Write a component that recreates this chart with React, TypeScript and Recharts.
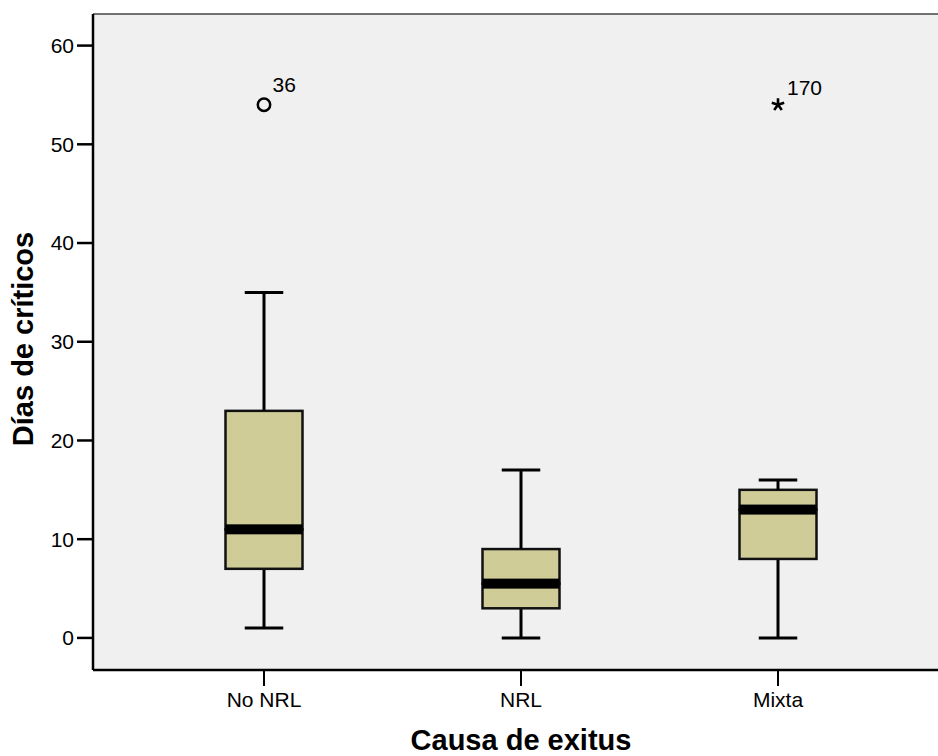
import { ComposedChart, Bar, Scatter, XAxis, YAxis, CartesianGrid, Label } from 'recharts'

const categories = ['No NRL', 'NRL', 'Mixta']
const minValues = [1, 0, 0]
const q1Values = [7, 3, 8]
const medianValues = [11, 5.5, 13]
const q3Values = [23, 9, 15]
const maxValues = [35, 17, 16]
const outlierValues: (number | null)[] = [54, null, 54]
const outlierCases: (string | null)[] = ['36', null, '170']
const outlierKinds: (string | null)[] = ['outlier', null, 'extreme']
const yTicks = [0, 10, 20, 30, 40, 50, 60]

const data = categories.map((name, i) => ({
  name,
  base:        minValues[i],
  lowWhisker:  q1Values[i] - minValues[i],
  lowBox:      medianValues[i] - q1Values[i],
  highBox:     q3Values[i] - medianValues[i],
  highWhisker: maxValues[i] - q3Values[i],
  outlier:     outlierValues[i],
  caseId:      outlierCases[i],
  kind:        outlierKinds[i],
}))

const FONT = '"Liberation Sans", Arial, sans-serif'
const BOX_FILL = '#cfcc98'

// eslint-disable-next-line @typescript-eslint/no-explicit-any
function LowWhisker(p: any) {
  const cx = p.x + p.width / 2
  const bottom = p.y + p.height
  const cap = p.width / 4
  return (
    <g>
      <line x1={cx} x2={cx} y1={p.y} y2={bottom} stroke="#000" strokeWidth={3} />
      <line x1={cx - cap} x2={cx + cap} y1={bottom} y2={bottom} stroke="#000" strokeWidth={3} />
    </g>
  )
}

// eslint-disable-next-line @typescript-eslint/no-explicit-any
function HighWhisker(p: any) {
  const cx = p.x + p.width / 2
  const cap = p.width / 4
  return (
    <g>
      <line x1={cx} x2={cx} y1={p.y} y2={p.y + p.height} stroke="#000" strokeWidth={3} />
      <line x1={cx - cap} x2={cx + cap} y1={p.y} y2={p.y} stroke="#000" strokeWidth={3} />
    </g>
  )
}

// eslint-disable-next-line @typescript-eslint/no-explicit-any
function LowBox(p: any) {
  return <rect x={p.x} y={p.y} width={p.width} height={p.height} fill={BOX_FILL} stroke="#111" strokeWidth={2.5} />
}

// eslint-disable-next-line @typescript-eslint/no-explicit-any
function HighBox(p: any) {
  const medianY = p.y + p.height
  return (
    <g>
      <rect x={p.x} y={p.y} width={p.width} height={p.height} fill={BOX_FILL} stroke="#111" strokeWidth={2.5} />
      <rect x={p.x} y={medianY - 5} width={p.width} height={10} fill="#000" />
    </g>
  )
}

// eslint-disable-next-line @typescript-eslint/no-explicit-any
function OutlierMark(p: any) {
  const { cx, cy, payload } = p
  if (payload == null || payload.outlier == null || !Number.isFinite(cy)) return <g />
  if (payload.kind === 'extreme') {
    const arms = [-90, -18, 54, 126, 198].map((a) => {
      const r = (a * Math.PI) / 180
      return `M${cx},${cy}L${cx + 6.5 * Math.cos(r)},${cy + 6.5 * Math.sin(r)}`
    })
    return (
      <g>
        <path d={arms.join('')} stroke="#000" strokeWidth={2.6} strokeLinecap="butt" fill="none" />
        <text x={cx + 9} y={cy - 9.5} fontFamily={FONT} fontSize={21} fill="#000">{payload.caseId}</text>
      </g>
    )
  }
  return (
    <g>
      <circle cx={cx} cy={cy} r={6.2} fill="none" stroke="#000" strokeWidth={2.5} />
      <text x={cx + 8.5} y={cy - 13} fontFamily={FONT} fontSize={21} fill="#000">{payload.caseId}</text>
    </g>
  )
}

function YTitle() {
  return (
    <text
      x={33}
      y={339}
      transform="rotate(-90, 33, 339)"
      textAnchor="middle"
      fontFamily={FONT}
      fontSize={29}
      fontWeight="bold"
      fill="#000"
    >
      Días de críticos
    </text>
  )
}

function XTitle() {
  return (
    <text x={521} y={750} textAnchor="middle" fontFamily={FONT} fontSize={29} fontWeight="bold" fill="#000">
      Causa de exitus
    </text>
  )
}

export default function App() {
  const tick = { fontFamily: FONT, fontSize: 21, fill: '#000' }
  return (
    <div style={{ position: 'absolute', left: 0, top: 0, width: 938, height: 756, overflow: 'hidden', background: '#fff' }}>
      <ComposedChart width={945} height={756} data={data} margin={{ top: 13, right: 0, bottom: 0, left: 0 }}>
        <CartesianGrid horizontal={false} vertical={false} fill="#f0f0f0" stroke="none" />
        <XAxis
          dataKey="name"
          height={86}
          padding={{ left: 42.5, right: 38.5 }}
          tick={tick}
          tickSize={16}
          tickMargin={6}
          tickLine={{ stroke: '#000', strokeWidth: 2 }}
          axisLine={{ stroke: '#000', strokeWidth: 2.5 }}
        >
          <Label content={<XTitle />} />
        </XAxis>
        <XAxis
          xAxisId="top"
          dataKey="name"
          orientation="top"
          height={1}
          tick={false}
          tickLine={false}
          axisLine={{ stroke: '#444', strokeWidth: 1.5 }}
        />
        <YAxis
          type="number"
          width={93}
          domain={[-3.25, 63.2]}
          allowDataOverflow
          ticks={yTicks}
          interval={0}
          tick={tick}
          tickSize={16}
          tickMargin={3}
          tickLine={{ stroke: '#000', strokeWidth: 2.5 }}
          axisLine={{ stroke: '#000', strokeWidth: 2.5 }}
        >
          <Label content={<YTitle />} />
        </YAxis>
        <Bar dataKey="base" stackId="box" barSize={77} fill="none" shape={() => <g />} isAnimationActive={false} />
        <Bar dataKey="lowWhisker" stackId="box" barSize={77} shape={LowWhisker} isAnimationActive={false} />
        <Bar dataKey="lowBox" stackId="box" barSize={77} shape={LowBox} isAnimationActive={false} />
        <Bar dataKey="highBox" stackId="box" barSize={77} shape={HighBox} isAnimationActive={false} />
        <Bar dataKey="highWhisker" stackId="box" barSize={77} shape={HighWhisker} isAnimationActive={false} />
        <Scatter dataKey="outlier" shape={OutlierMark} isAnimationActive={false} />
      </ComposedChart>
    </div>
  )
}
